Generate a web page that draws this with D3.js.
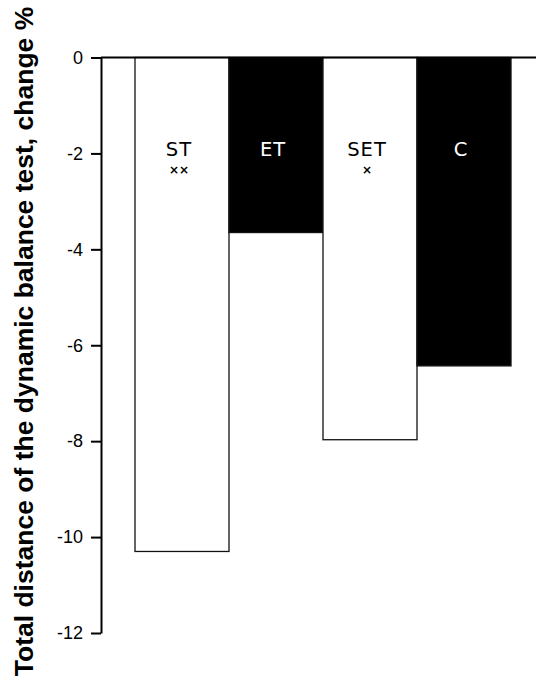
<!DOCTYPE html>
<html>
<head>
<meta charset="utf-8">
<script src="https://cdn.jsdelivr.net/npm/d3@7"></script>
<style>
  html, body { margin: 0; padding: 0; background: #fff; }
  svg { display: block; }
</style>
</head>
<body>
<svg id="chart" width="536" height="678"></svg>
<script>
const categories = ["ST", "ET", "SET", "C"];
const values = [-10.3, -3.65, -7.97, -6.43];
const fills = ["white", "black", "white", "black"];
const significance = ["××", "", "×", ""];
const yTicks = [0, -2, -4, -6, -8, -10, -12];
const yLabel = "Total distance of the dynamic balance test, change %";

const svg = d3.select("#chart");
const axisX = 101;

const y = d3.scaleLinear().domain([-12, 0]).range([633, 57.5]);
const x = d3.scaleBand().domain(categories).range([135, 511]).padding(0);

// bars
svg.append("g").selectAll("rect").data(categories).join("rect")
  .attr("x", d => x(d))
  .attr("y", y(0))
  .attr("width", x.bandwidth())
  .attr("height", (d, i) => y(values[i]) - y(0))
  .attr("fill", (d, i) => fills[i])
  .attr("stroke", "#111")
  .attr("stroke-width", 1.3);

// category labels
svg.append("g").selectAll("text").data(categories).join("text")
  .attr("x", d => x(d) + x.bandwidth() / 2 - 3)
  .attr("y", 156)
  .attr("text-anchor", "middle")
  .attr("font-family", "'DejaVu Sans', sans-serif")
  .attr("font-size", 19.5)
  .attr("letter-spacing", 1)
  .attr("fill", (d, i) => fills[i] === "black" ? "white" : "black")
  .text(d => d);

svg.append("g").selectAll("text").data(categories).join("text")
  .attr("x", d => x(d) + x.bandwidth() / 2 - 3)
  .attr("y", 174)
  .attr("text-anchor", "middle")
  .attr("font-family", "'DejaVu Sans', sans-serif")
  .attr("font-size", 12)
  .attr("font-weight", "bold")
  .attr("fill", "black")
  .text((d, i) => significance[i]);

// zero line
svg.append("line")
  .attr("x1", axisX).attr("x2", 536)
  .attr("y1", y(0)).attr("y2", y(0))
  .attr("stroke", "black").attr("stroke-width", 2);

// y axis
const yAxis = d3.axisLeft(y).tickValues(yTicks).tickSize(10).tickSizeOuter(0).tickPadding(8)
  .tickFormat(d => d3.format("d")(d).replace("−", "-"));
const gy = svg.append("g").attr("transform", `translate(${axisX},0)`).call(yAxis);
gy.select(".domain").attr("stroke", "black").attr("stroke-width", 2);
gy.selectAll(".tick line").attr("stroke", "black").attr("stroke-width", 2);
gy.selectAll(".tick text")
  .attr("font-family", "'Liberation Sans', Arial, sans-serif")
  .attr("font-size", 18)
  .attr("fill", "black");

// y label
svg.append("text")
  .attr("transform", `translate(33,${(5 + 678) / 2}) rotate(-90)`)
  .attr("text-anchor", "middle")
  .attr("font-family", "'Liberation Sans', Arial, sans-serif")
  .attr("font-weight", "bold")
  .attr("font-size", 26.5)
  .attr("fill", "black")
  .text(yLabel);
</script>
</body>
</html>
